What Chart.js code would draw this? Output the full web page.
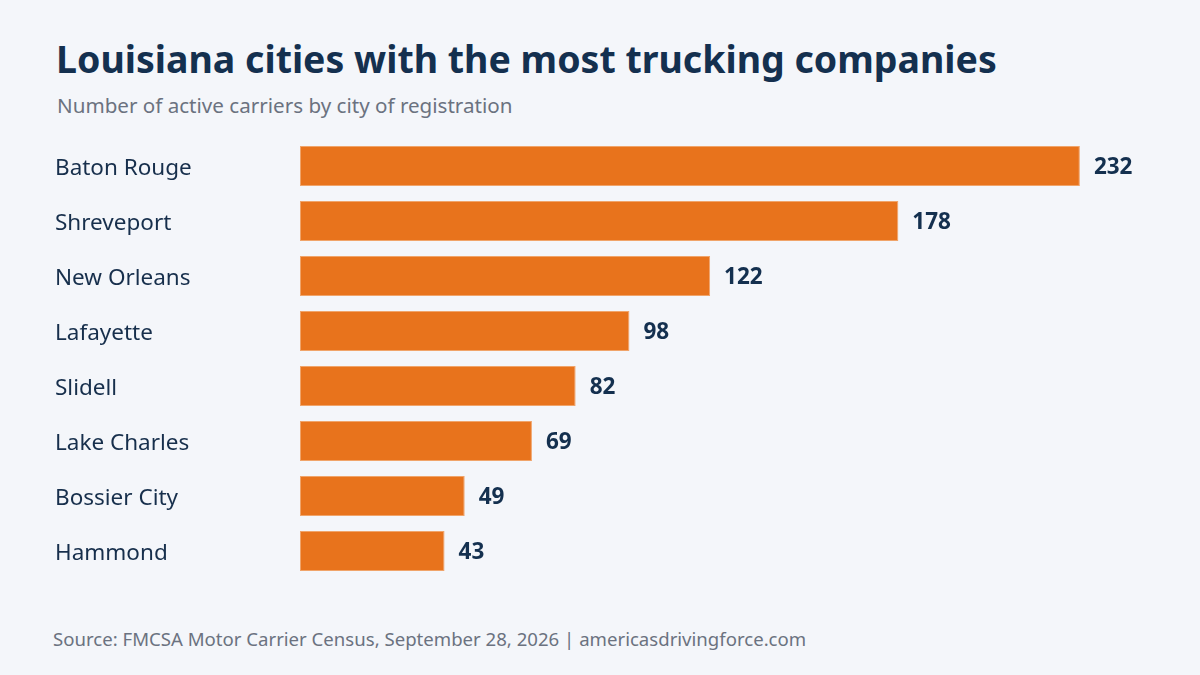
<!DOCTYPE html>
<html>
<head>
<meta charset="utf-8">
<script src="https://cdn.jsdelivr.net/npm/chart.js@4"></script>
<style>
  html, body { margin: 0; padding: 0; }
  body { width: 1200px; height: 675px; background: #f4f6fa; position: relative; overflow: hidden;
         font-family: "Noto Sans", "Open Sans", sans-serif; }
  #title, #subtitle, #source { position: absolute; white-space: nowrap; line-height: 1; }
  #title { left: 56px; top: 40px; font-size: 37.5px; font-weight: 700; color: #14304f; }
  #subtitle { left: 57px; top: 95px; font-size: 20.6px; color: #6b7280; }
  #source { left: 53px; top: 630px; font-size: 18.6px; color: #6b7280; }
  #wrap { position: absolute; left: 0; top: 130px; width: 1200px; height: 470px; }
</style>
</head>
<body>
<div id="title">Louisiana cities with the most trucking companies</div>
<div id="subtitle">Number of active carriers by city of registration</div>
<div id="wrap"><canvas id="chart"></canvas></div>
<div id="source">Source: FMCSA Motor Carrier Census, September 28, 2026 | americasdrivingforce.com</div>
<script>
// Города и число перевозчиков
var CITIES = ['Baton Rouge', 'Shreveport', 'New Orleans', 'Lafayette', 'Slidell', 'Lake Charles', 'Bossier City', 'Hammond'];
var CARRIERS = [232, 178, 122, 98, 82, 69, 49, 43];
var X_MAX = 260;

var NAVY = '#14304f';
var FONT = '"Noto Sans", "Open Sans", sans-serif';

// подписи значений справа от столбцов
var valueLabels = {
  id: 'valueLabels',
  afterDatasetsDraw: function(chart) {
    var ctx = chart.ctx;
    var meta = chart.getDatasetMeta(0);
    ctx.save();
    ctx.font = '700 22.5px ' + FONT;
    ctx.fillStyle = NAVY;
    ctx.textAlign = 'left';
    ctx.textBaseline = 'middle';
    meta.data.forEach(function(bar, i) {
      ctx.fillText(String(CARRIERS[i]), bar.x + 14, bar.y + 2);
    });
    ctx.restore();
  }
};

var chart = new Chart(document.getElementById('chart'), {
  type: 'bar',
  data: {
    labels: CITIES,
    datasets: [{
      data: CARRIERS,
      backgroundColor: '#e8731c',
      borderColor: '#f0a46a',
      borderWidth: 1,
      borderSkipped: false,
      barPercentage: 0.727,
      categoryPercentage: 1.0
    }]
  },
  options: {
    indexAxis: 'y',
    responsive: true,
    maintainAspectRatio: false,
    animation: false,
    layout: { padding: { left: 55, right: 26, top: 8.5, bottom: 21.5 } },
    plugins: { legend: { display: false }, tooltip: { enabled: false } },
    scales: {
      x: { display: false, min: 0, max: X_MAX },
      y: {
        grid: { display: false },
        border: { display: false },
        ticks: {
          crossAlign: 'far',
          labelOffset: 2.5,
          color: '#172f4c',
          font: { family: FONT, size: 22.5 }
        },
        afterFit: function(axis) {
          axis.width = 245;
          axis.paddingTop = 0;
          axis.paddingBottom = 0;
        }
      }
    }
  },
  plugins: [valueLabels]
});
</script>
</body>
</html>
